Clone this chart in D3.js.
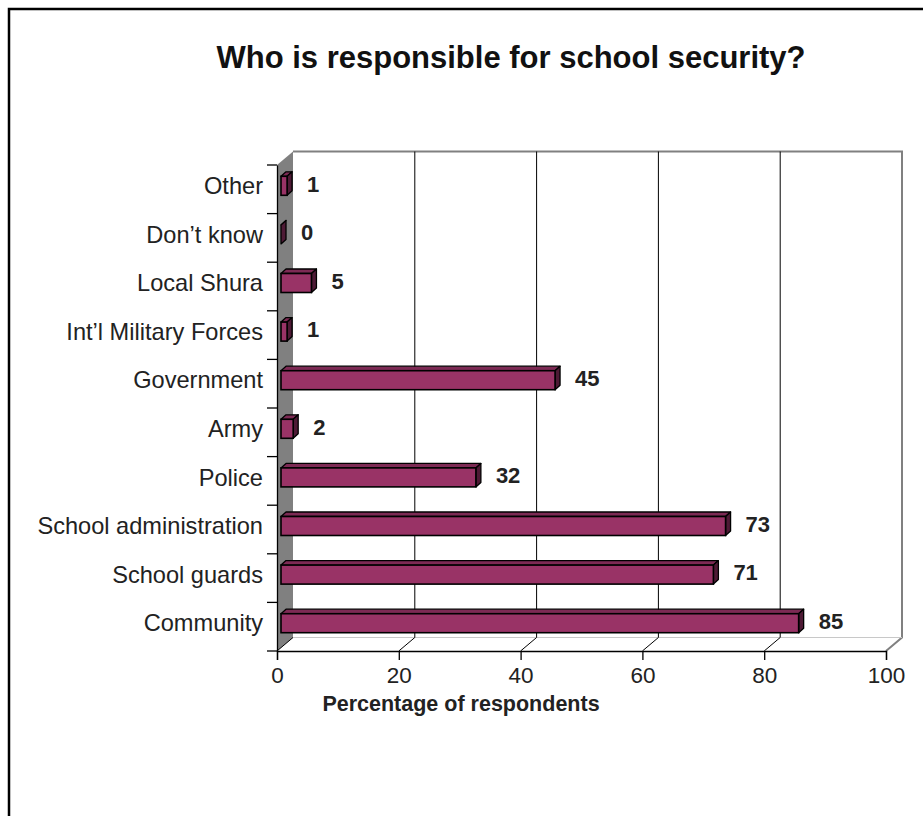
<!DOCTYPE html>
<html>
<head>
<meta charset="utf-8">
<script src="https://cdn.jsdelivr.net/npm/d3@7"></script>
<style>
  html, body { margin: 0; padding: 0; background: #fff; }
  svg { display: block; font-family: "Liberation Sans", Arial, sans-serif; }
</style>
</head>
<body>
<svg id="chart" width="923" height="816"></svg>
<script>
// Survey answers, listed top to bottom as they appear on the chart
const categories = [
  "Other", "Don\u2019t know", "Local Shura", "Int\u2019l Military Forces",
  "Government", "Army", "Police", "School administration",
  "School guards", "Community"
];
const percentages = [1, 0, 5, 1, 45, 2, 32, 73, 71, 85];
const xTickValues = [0, 20, 40, 60, 80, 100];
const chartTitle = "Who is responsible for school security?";
const xAxisTitle = "Percentage of respondents";

const svg = d3.select("#chart");

// Front plane of the pseudo-3D plot box
const x = d3.scaleLinear().domain([0, 100]).range([277, 886]);
const y = d3.scaleBand().domain(categories).range([165, 651]).padding(0);

// Offset from the front plane to the back wall
const DX = 16, DY = -13.5;
// Offset from the front plane to the front face of the bars, and bar depth
const BX = 4, BY = -3.5, BDX = 5, BDY = -4.5;
const barH = 19;

const colors = { front: "#993366", top: "#7d2a54", side: "#4e1a35", wall: "#808080" };

// Outer frame
svg.append("rect")
  .attr("x", 9).attr("y", 9).attr("width", 940).attr("height", 840)
  .attr("fill", "none").attr("stroke", "#000").attr("stroke-width", 2.5);

// Chart title
svg.append("text")
  .attr("x", 511).attr("y", 68)
  .attr("text-anchor", "middle")
  .attr("font-size", 31).attr("font-weight", "bold").attr("fill", "#111")
  .text(chartTitle);

const [y0, y1] = y.range();
const [x0, x1] = x.range();

// Left (category) wall
svg.append("polygon")
  .attr("points", [[x0, y0], [x0 + DX, y0 + DY], [x0 + DX, y1 + DY], [x0, y1]].join(" "))
  .attr("fill", colors.wall);

// Back wall outline (top and right edges)
svg.append("path")
  .attr("d", `M${x0 + DX},${y0 + DY}H${x1 + DX}V${y1 + DY}L${x1},${y1}`)
  .attr("fill", "none").attr("stroke", colors.wall).attr("stroke-width", 2);

// Back edge of the floor
svg.append("line")
  .attr("x1", x0 + DX).attr("x2", x1 + DX)
  .attr("y1", y1 + DY).attr("y2", y1 + DY)
  .attr("stroke", "#c8c8c8").attr("stroke-width", 1);

// Gridlines on the back wall, carried across the floor
const inner = xTickValues.filter(t => t > 0 && t < 100);
svg.append("g").selectAll("path").data(inner).join("path")
  .attr("d", t => `M${x(t) + DX},${y0 + DY}V${y1 + DY}L${x(t)},${y1}`)
  .attr("fill", "none").attr("stroke", "#000").attr("stroke-width", 1);
svg.append("line")
  .attr("x1", x0 + DX).attr("y1", y1 + DY).attr("x2", x0).attr("y2", y1)
  .attr("stroke", "#000").attr("stroke-width", 1);

// Bars as extruded boxes
const bars = svg.append("g").selectAll("g")
  .data(categories.map((c, i) => ({ c, v: percentages[i] })))
  .join("g");

bars.each(function (d) {
  const g = d3.select(this);
  const xl = x(0) + BX, xr = x(d.v) + BX;
  const yt = y(d.c) + y.bandwidth() / 2 + BY - barH / 2;
  const yb = yt + barH;
  g.append("polygon") // top face
    .attr("points", [[xl, yt], [xl + BDX, yt + BDY], [xr + BDX, yt + BDY], [xr, yt]].join(" "))
    .attr("fill", colors.top).attr("stroke", "#000").attr("stroke-width", 1.3).attr("stroke-linejoin", "round");
  g.append("polygon") // side face
    .attr("points", [[xr, yt], [xr + BDX, yt + BDY], [xr + BDX, yb + BDY], [xr, yb]].join(" "))
    .attr("fill", colors.side).attr("stroke", "#000").attr("stroke-width", 1.3).attr("stroke-linejoin", "round");
  g.append("rect") // front face
    .attr("x", xl).attr("y", yt).attr("width", xr - xl).attr("height", barH)
    .attr("fill", colors.front).attr("stroke", "#000").attr("stroke-width", 1.6);
  g.append("text") // value label
    .attr("x", xr + BDX + 15)
    .attr("y", yt + barH / 2 - 2)
    .attr("dy", "0.35em")
    .attr("font-size", 22).attr("font-weight", "bold").attr("fill", "#222")
    .text(d.v);
});

// Category axis: labels from the band scale, ticks on band boundaries
const yAxis = svg.append("g")
  .attr("transform", `translate(${x0},0)`)
  .call(d3.axisLeft(y).tickSize(0).tickPadding(14));
yAxis.select(".domain").attr("stroke", "#000").attr("stroke-width", 1.3);
yAxis.selectAll(".tick text")
  .attr("font-size", 23.6).attr("fill", "#222")
  .attr("font-family", "'Liberation Sans', Arial, sans-serif")
  .attr("dy", "0.2em");
const boundaries = categories.map(c => y(c)).concat([y1]);
svg.append("g").selectAll("line").data(boundaries).join("line")
  .attr("x1", x0 - 10).attr("x2", x0)
  .attr("y1", d => d).attr("y2", d => d)
  .attr("stroke", "#000").attr("stroke-width", 1.3);

// Value axis along the front edge of the floor
const xAxis = svg.append("g")
  .attr("transform", `translate(0,${y1})`)
  .call(d3.axisBottom(x).tickValues(xTickValues).tickSize(9).tickPadding(7));
xAxis.select(".domain").attr("stroke", "#000").attr("stroke-width", 1.3);
xAxis.selectAll(".tick line").attr("stroke", "#000").attr("stroke-width", 1.3);
xAxis.selectAll(".tick text")
  .attr("font-size", 22.5).attr("fill", "#222")
  .attr("font-family", "'Liberation Sans', Arial, sans-serif");

// Value axis title
svg.append("text")
  .attr("x", 461).attr("y", 711)
  .attr("text-anchor", "middle")
  .attr("font-size", 21.5).attr("font-weight", "bold").attr("fill", "#222")
  .text(xAxisTitle);
</script>
</body>
</html>
